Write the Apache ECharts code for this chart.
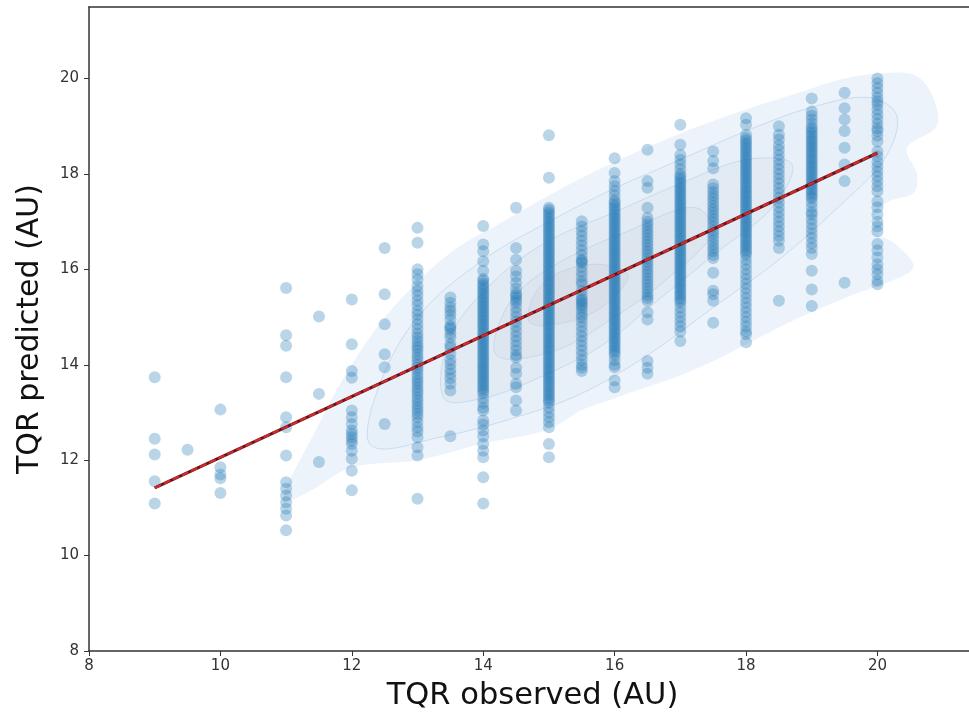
<!DOCTYPE html>
<html><head><meta charset="utf-8">
<script src="https://cdn.jsdelivr.net/npm/echarts@6/dist/echarts.min.js"></script>
<style>html,body{margin:0;padding:0;background:#fff;overflow:hidden;width:969px;height:724px;}#c{width:990px;height:724px;}</style>
</head><body><div id="c"></div>
<script>
// Tick labels
const xTicks = [8, 10, 12, 14, 16, 18, 20];
const yTicks = [8, 10, 12, 14, 16, 18, 20];

// Observed TQR values (columns) and the predicted values read in each column
const columnX = [9, 9.5, 10, 11, 11.5, 12, 12.5, 13, 13.5, 14, 14.5, 15, 15.5, 16, 16.5, 17, 17.5, 18, 18.5, 19, 19.5, 20];
const y_9 = [13.74, 12.45, 12.12, 11.56, 11.09];
const y_9_5 = [12.22];
const y_10 = [13.06, 11.85, 11.7, 11.62, 11.31];
const y_11 = [15.61, 14.62, 14.4, 13.74, 12.9, 12.69, 12.1, 11.54, 11.4, 11.26, 11.12, 10.98, 10.84, 10.53];
const y_11_5 = [15.01, 13.39, 11.96];
const y_12 = [15.37, 14.43, 13.87, 13.73, 13.04, 12.9, 12.76, 12.62, 12.55, 12.48, 12.41, 12.34, 12.2, 12.03, 11.78, 11.37];
const y_12_5 = [16.45, 15.48, 14.85, 14.22, 13.95, 12.76];
const y_13 = [16.87, 16.56, 16.0, 15.9, 15.79, 15.65, 15.55, 15.45, 15.34, 15.25, 15.13, 15.05, 14.95, 14.85, 14.75, 14.65, 14.57, 14.5, 14.42, 14.36, 14.3, 14.22, 14.15, 14.08, 14.0, 13.94, 13.88, 13.8, 13.73, 13.66, 13.6, 13.53, 13.46, 13.4, 13.32, 13.25, 13.18, 13.11, 13.04, 12.97, 12.9, 12.8, 12.69, 12.6, 12.48, 12.27, 12.1, 11.19];
const y_13_5 = [15.41, 15.3, 15.2, 15.13, 15.05, 14.95, 14.82, 14.78, 14.74, 14.65, 14.57, 14.43, 14.36, 14.23, 14.1, 14.01, 13.9, 13.81, 13.72, 13.6, 13.46, 12.5];
const y_14 = [16.91, 16.52, 16.38, 16.17, 15.97, 15.8, 15.76, 15.7, 15.65, 15.6, 15.55, 15.5, 15.45, 15.4, 15.35, 15.3, 15.25, 15.2, 15.15, 15.1, 15.05, 15.0, 14.95, 14.9, 14.85, 14.8, 14.75, 14.7, 14.65, 14.6, 14.55, 14.5, 14.45, 14.4, 14.35, 14.3, 14.25, 14.2, 14.15, 14.1, 14.05, 14.0, 13.95, 13.9, 13.85, 13.8, 13.75, 13.7, 13.65, 13.6, 13.55, 13.5, 13.45, 13.4, 13.3, 13.2, 13.1, 13.04, 12.83, 12.75, 12.62, 12.5, 12.34, 12.2, 12.06, 11.64, 11.09];
const y_14_5 = [17.29, 16.45, 16.2, 15.97, 15.85, 15.72, 15.6, 15.5, 15.45, 15.41, 15.35, 15.3, 15.2, 15.1, 15.0, 14.9, 14.8, 14.7, 14.6, 14.5, 14.4, 14.3, 14.2, 14.15, 13.94, 13.81, 13.6, 13.53, 13.25, 13.04];
const y_15 = [18.81, 17.92, 17.29, 17.25, 17.2, 17.15, 17.1, 17.05, 17.0, 16.95, 16.9, 16.85, 16.8, 16.75, 16.7, 16.65, 16.6, 16.55, 16.5, 16.45, 16.4, 16.35, 16.3, 16.25, 16.2, 16.15, 16.1, 16.05, 16.0, 15.95, 15.9, 15.85, 15.8, 15.75, 15.7, 15.65, 15.6, 15.55, 15.5, 15.45, 15.4, 15.35, 15.3, 15.25, 15.2, 15.15, 15.1, 15.05, 15.0, 14.95, 14.9, 14.85, 14.8, 14.75, 14.7, 14.65, 14.6, 14.55, 14.5, 14.45, 14.4, 14.35, 14.3, 14.25, 14.2, 14.15, 14.1, 14.05, 14.0, 13.95, 13.9, 13.85, 13.8, 13.75, 13.7, 13.65, 13.6, 13.55, 13.5, 13.45, 13.4, 13.35, 13.3, 13.25, 13.2, 13.1, 13.0, 12.9, 12.8, 12.69, 12.34, 12.06];
const y_15_5 = [17.01, 16.9, 16.8, 16.7, 16.6, 16.5, 16.4, 16.3, 16.2, 16.17, 16.14, 16.05, 15.95, 15.85, 15.75, 15.69, 15.55, 15.45, 15.38, 15.34, 15.3, 15.25, 15.2, 15.13, 15.05, 14.99, 14.9, 14.8, 14.7, 14.6, 14.5, 14.4, 14.3, 14.2, 14.1, 14.0, 13.94, 13.87];
const y_16 = [18.33, 18.02, 17.85, 17.75, 17.65, 17.55, 17.45, 17.4, 17.35, 17.3, 17.25, 17.2, 17.15, 17.1, 17.05, 17.0, 16.95, 16.9, 16.85, 16.8, 16.75, 16.7, 16.65, 16.6, 16.55, 16.5, 16.45, 16.4, 16.35, 16.3, 16.25, 16.2, 16.15, 16.1, 16.05, 16.0, 15.95, 15.9, 15.85, 15.8, 15.75, 15.7, 15.65, 15.6, 15.55, 15.5, 15.45, 15.4, 15.35, 15.3, 15.25, 15.2, 15.15, 15.1, 15.05, 15.0, 14.95, 14.9, 14.85, 14.8, 14.75, 14.7, 14.65, 14.6, 14.55, 14.5, 14.45, 14.4, 14.35, 14.3, 14.25, 14.2, 14.1, 14.0, 13.95, 13.67, 13.53];
const y_16_5 = [18.51, 17.85, 17.71, 17.29, 17.08, 17.0, 16.93, 16.86, 16.79, 16.72, 16.65, 16.58, 16.51, 16.44, 16.37, 16.3, 16.23, 16.16, 16.09, 16.02, 15.95, 15.88, 15.81, 15.74, 15.67, 15.6, 15.53, 15.46, 15.4, 15.34, 15.1, 14.95, 14.08, 13.94, 13.81];
const y_17 = [19.03, 18.61, 18.4, 18.3, 18.2, 18.1, 18.0, 17.95, 17.9, 17.85, 17.8, 17.75, 17.7, 17.65, 17.6, 17.55, 17.5, 17.45, 17.4, 17.35, 17.3, 17.25, 17.2, 17.15, 17.1, 17.05, 17.0, 16.95, 16.9, 16.85, 16.8, 16.75, 16.7, 16.65, 16.6, 16.55, 16.5, 16.45, 16.4, 16.35, 16.3, 16.25, 16.2, 16.15, 16.1, 16.05, 16.0, 15.95, 15.9, 15.85, 15.8, 15.75, 15.7, 15.65, 15.6, 15.55, 15.5, 15.45, 15.4, 15.35, 15.3, 15.2, 15.1, 15.0, 14.9, 14.8, 14.7, 14.5];
const y_17_5 = [18.47, 18.27, 18.12, 17.78, 17.7, 17.62, 17.55, 17.48, 17.4, 17.33, 17.26, 17.19, 17.12, 17.05, 16.98, 16.9, 16.82, 16.75, 16.68, 16.6, 16.52, 16.45, 16.38, 16.3, 16.24, 15.93, 15.55, 15.48, 15.34, 14.88];
const y_18 = [19.17, 19.03, 18.82, 18.75, 18.7, 18.65, 18.6, 18.55, 18.5, 18.45, 18.4, 18.35, 18.3, 18.25, 18.2, 18.15, 18.1, 18.05, 18.0, 17.95, 17.9, 17.85, 17.8, 17.75, 17.7, 17.65, 17.6, 17.55, 17.5, 17.45, 17.4, 17.35, 17.3, 17.25, 17.2, 17.15, 17.1, 17.05, 17.0, 16.95, 16.9, 16.85, 16.8, 16.75, 16.7, 16.65, 16.6, 16.55, 16.5, 16.45, 16.4, 16.35, 16.3, 16.2, 16.1, 16.0, 15.9, 15.8, 15.7, 15.6, 15.5, 15.4, 15.3, 15.2, 15.1, 15.0, 14.9, 14.8, 14.7, 14.64, 14.47];
const y_18_5 = [19.0, 18.82, 18.72, 18.6, 18.5, 18.4, 18.3, 18.2, 18.1, 18.0, 17.9, 17.8, 17.7, 17.6, 17.5, 17.4, 17.3, 17.2, 17.1, 17.0, 16.9, 16.8, 16.7, 16.6, 16.45, 15.34];
const y_19 = [19.58, 19.31, 19.22, 19.14, 19.06, 18.98, 18.93, 18.88, 18.83, 18.78, 18.73, 18.68, 18.63, 18.58, 18.53, 18.48, 18.43, 18.38, 18.33, 18.28, 18.23, 18.18, 18.13, 18.08, 18.03, 17.98, 17.93, 17.88, 17.83, 17.78, 17.73, 17.68, 17.63, 17.58, 17.53, 17.49, 17.4, 17.3, 17.2, 17.15, 17.05, 16.95, 16.85, 16.75, 16.66, 16.55, 16.45, 16.32, 15.97, 15.58, 15.23];
const y_19_5 = [19.7, 19.38, 19.14, 18.9, 18.55, 18.2, 17.85, 15.72];
const y_20 = [20.0, 19.9, 19.8, 19.7, 19.6, 19.52, 19.45, 19.35, 19.25, 19.15, 19.05, 18.96, 18.9, 18.8, 18.68, 18.47, 18.37, 18.25, 18.15, 18.05, 17.95, 17.85, 17.74, 17.64, 17.43, 17.3, 17.15, 17.0, 16.9, 16.8, 16.53, 16.4, 16.25, 16.1, 16.0, 15.9, 15.76, 15.69];
const columnY = [y_9, y_9_5, y_10, y_11, y_11_5, y_12, y_12_5, y_13, y_13_5, y_14, y_14_5, y_15, y_15_5, y_16, y_16_5, y_17, y_17_5, y_18, y_18_5, y_19, y_19_5, y_20];

// Regression line end points
const lineX = [9, 20];
const lineY = [11.42, 18.44];

// Density contour outlines (outer to inner)
const kdeLevel1 = [[10.95,11.15],[11.47,12.68],[11.97,13.94],[12.63,15.2],[13.5,16.35],[14.3,17.0],[15.2,17.7],[16.0,18.25],[17.0,18.85],[18.0,19.35],[18.8,19.7],[19.5,20.0],[20.2,20.12],[20.6,20.05],[20.85,19.6],[20.9,19.0],[20.45,18.55],[20.6,18.0],[20.55,17.6],[20.15,17.4],[19.9,16.9],[20.3,16.5],[20.55,16.05],[20.2,15.75],[19.6,15.45],[18.6,14.85],[17.3,13.95],[16.0,13.3],[15.5,13.05],[15.0,12.65],[14.0,12.35],[13.0,12.0],[12.0,11.85],[11.3,11.3]];
const kdeLevel2 = [[12.3,12.3],[12.4,13.5],[13.0,15.0],[14.0,16.2],[15.0,17.0],[16.0,17.7],[17.0,18.3],[18.0,18.9],[19.0,19.4],[19.9,19.6],[20.3,19.2],[20.1,18.3],[19.4,17.3],[18.5,16.2],[17.5,15.2],[16.5,14.2],[15.5,13.4],[14.5,12.9],[13.4,12.5]];
const kdeLevel3 = [[13.4,13.3],[13.5,14.6],[14.2,15.8],[15.0,16.6],[16.0,17.2],[17.0,17.8],[18.0,18.3],[18.7,18.2],[18.4,17.3],[17.6,16.4],[16.7,15.4],[15.8,14.4],[14.8,13.7],[14.0,13.3]];
const kdeLevel4 = [[14.2,14.2],[14.4,15.3],[15.1,16.1],[16.2,16.8],[17.2,17.3],[17.5,16.8],[16.8,15.8],[16.0,15.0],[15.1,14.3]];
const kdeLevel5 = [[14.7,14.9],[14.9,15.7],[15.6,16.1],[16.2,15.9],[15.9,15.3],[15.3,14.9]];
const kdeLevels = [kdeLevel1, kdeLevel2, kdeLevel3, kdeLevel4, kdeLevel5];
const kdeFills = ['#edf3fa', '#e7eff8', '#e2eaf3', '#dde5ee', '#d8dfe8'];

const points = [];
columnX.forEach((x, i) => columnY[i].forEach(y => points.push([x, y])));

const chart = echarts.init(document.getElementById('c'), null, {renderer: 'canvas'});
const axisCommon = {
  type: 'value', min: 8, max: 21.5,
  nameLocation: 'middle',
  nameTextStyle: {fontSize: 30, color: '#111', fontFamily: 'DejaVu Sans'},
  axisLine: {show: true, onZero: false, lineStyle: {color: '#333', width: 1.5}},
  splitLine: {show: false}
};
chart.setOption({
  animation: false,
  backgroundColor: '#fff',
  textStyle: {fontFamily: 'DejaVu Sans'},
  grid: {left: 89, top: 7, width: 887, height: 644, outerBoundsMode: 'none', containLabel: false, show: false},
  xAxis: [
    Object.assign({}, axisCommon, {
      name: 'TQR observed (AU)', nameGap: 30,
      nameTextStyle: {fontSize: 30.5, color: '#111', fontFamily: 'DejaVu Sans'},
      axisTick: {show: true, length: 5, lineStyle: {color: '#333', width: 1}, customValues: xTicks},
      axisLabel: {fontSize: 15, color: '#333', margin: 8, customValues: xTicks}
    }),
    {
      type: 'value', min: 8, max: 21.5, position: 'top',
      axisLine: {show: true, onZero: false, lineStyle: {color: '#333', width: 1.5}},
      axisTick: {show: false}, axisLabel: {show: false}, splitLine: {show: false}
    }
  ],
  yAxis: Object.assign({}, axisCommon, {
    name: 'TQR predicted (AU)', nameGap: 44,
    axisTick: {show: true, length: 5, lineStyle: {color: '#333', width: 1}, customValues: yTicks},
    axisLabel: {fontSize: 15, color: '#333', margin: 10, customValues: yTicks}
  }),
  series: [
    {
      type: 'custom', z: 1, silent: true, clip: true,
      data: kdeLevels.map((lv, i) => [lv[0][0], lv[0][1], i]),
      renderItem: function (params, api) {
        const lv = kdeLevels[params.dataIndex];
        return {
          type: 'polygon',
          shape: {points: lv.map(p => api.coord(p)), smooth: 0.35},
          style: {fill: kdeFills[params.dataIndex], stroke: params.dataIndex === 0 ? 'none' : '#bcd3e8', lineWidth: 0.7}
        };
      }
    },
    {
      type: 'scatter', z: 3, silent: true,
      symbolSize: 12,
      itemStyle: {color: '#1f77b4', opacity: 0.31},
      data: points
    },
    {
      type: 'line', z: 4, silent: true, symbol: 'none',
      lineStyle: {color: '#5e1820', width: 3.2},
      data: lineX.map((x, i) => [x, lineY[i]])
    },
    {
      type: 'line', z: 5, silent: true, symbol: 'none',
      lineStyle: {color: '#d62728', width: 2.4, type: [7, 3]},
      data: lineX.map((x, i) => [x, lineY[i]])
    }
  ]
});
</script>
</body></html>
